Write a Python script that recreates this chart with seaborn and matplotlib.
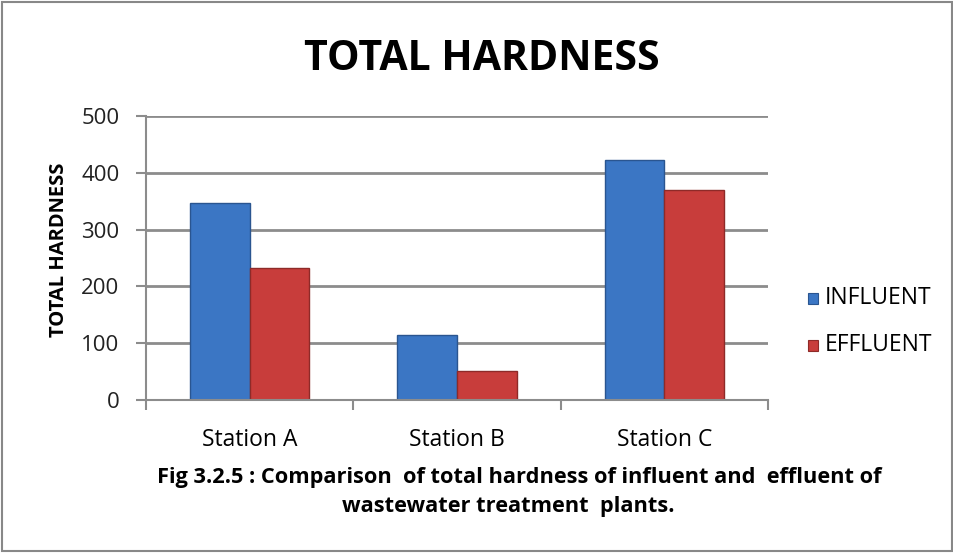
import matplotlib
matplotlib.use("Agg")
import matplotlib.pyplot as plt
import seaborn as sns
import pandas as pd
from matplotlib.patches import Rectangle

stations = ["Station A", "Station B", "Station C"]
influent = [347, 115, 423]
effluent = [232, 51, 369]
series_names = ["INFLUENT", "EFFLUENT"]
y_ticks = [0, 100, 200, 300, 400, 500]

df = pd.DataFrame({
    "Station": stations * 2,
    "Series": [series_names[0]] * 3 + [series_names[1]] * 3,
    "Value": influent + effluent,
})

sns.set_theme(style="white")
plt.rcParams['font.family'] = ['Open Sans', 'DejaVu Sans']
plt.rcParams['text.color'] = 'black'
plt.rcParams['axes.labelcolor'] = 'black'

fig = plt.figure(figsize=(9.54, 5.53), dpi=100)
ax = fig.add_axes([0.153, 0.2767, 0.652, 0.5133])

palette = {"INFLUENT": "#3B76C4", "EFFLUENT": "#C83D3B"}
sns.barplot(data=df, x="Station", y="Value", hue="Series", palette=palette,
            width=0.575, ax=ax, saturation=1, legend=False)
edges = {"INFLUENT": "#2A5590", "EFFLUENT": "#8E2A28"}
for cont, name in zip(ax.containers, series_names):
    for b in cont:
        b.set_edgecolor(edges[name])
        b.set_linewidth(1.0)

ax.set_xlim(-0.5, 2.5)
ax.set_ylim(0, 500)
ax.set_yticks(y_ticks)
ax.yaxis.grid(True, color="#8C8C8C", linewidth=2)
ax.set_axisbelow(True)
for s in ["top", "right"]:
    ax.spines[s].set_visible(False)
for s in ["left", "bottom"]:
    ax.spines[s].set_color("#8C8C8C")
    ax.spines[s].set_linewidth(1.5)

ax.set_xticks([0, 1, 2])
ax.set_xticklabels(stations, fontsize=16.5)
ax.set_xticks([-0.5, 0.5, 1.5, 2.5], minor=True)
ax.tick_params(axis="x", which="major", length=0, pad=20, labelcolor="black")
ax.tick_params(axis="x", which="minor", length=7, width=1.5, color="#8C8C8C", direction="out", bottom=True)
ax.tick_params(axis="y", length=7, width=1.5, color="#8C8C8C", direction="out", left=True,
               labelsize=16, pad=12, labelcolor="#222222")
ax.set_xlabel("")
ax.set_ylabel("TOTAL HARDNESS", fontsize=14.5, fontweight="bold")
ax.yaxis.set_label_coords(-0.124, 0.528)

fig.text(0.505, 0.893, "TOTAL HARDNESS", ha="center", va="center", fontsize=29.5, fontweight="bold")

fig.text(0.544, 0.1374, "Fig 3.2.5 : Comparison  of total hardness of influent and  effluent of",
         ha="center", va="center", fontsize=15.7, fontweight="bold")
fig.text(0.533, 0.0845, "wastewater treatment  plants.",
         ha="center", va="center", fontsize=15.7, fontweight="bold")

# legend
for i, name in enumerate(series_names):
    y = 0.461 - i * 0.085
    fig.patches.append(Rectangle((0.847, y - 0.011), 0.0105, 0.021, transform=fig.transFigure,
                                 facecolor=palette[name], edgecolor=edges[name], linewidth=0.8))
    fig.text(0.865, y, name, ha="left", va="center", fontsize=16.5)

fig.patches.append(Rectangle((0.002, 0.003), 0.996, 0.994, transform=fig.transFigure,
                             fill=False, edgecolor="#888888", linewidth=1.5))

fig.savefig("out.png", dpi=100)
